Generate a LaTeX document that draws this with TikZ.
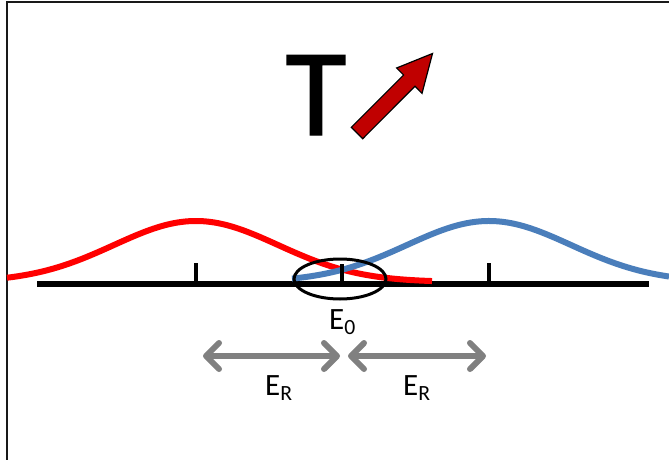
\documentclass[tikz,border=0pt]{standalone}
\usepackage{fontspec}
\setmainfont{Carlito}
\newfontfamily\tfont[FakeBold=1.2]{Carlito}
\usetikzlibrary{arrows.meta}
\definecolor{gaussblue}{RGB}{74,126,187}
\definecolor{darkred}{RGB}{192,0,0}
\definecolor{arrowgrey}{RGB}{128,128,128}
\tikzset{
  frameline/.style={line width=2.5, draw=black!90},
  axisline/.style={line width=5.5, draw=black},
  tickline/.style={line width=4.5, draw=black},
  gauss/.style={line width=6},
  greyarrow/.style={line width=6, draw=arrowgrey, {Straight Barb[length=13,width=26,round]}-{Straight Barb[length=13,width=26,round]}},
  lbl/.style={inner sep=0, anchor=base west, font=\fontsize{31}{31}\selectfont},
}
\begin{document}
\begin{tikzpicture}[x=1pt,y=-1pt]
\useasboundingbox (0,0) rectangle (669,460);
% frame
\coordinate (fa) at (7,460);
\coordinate (fb) at (7,2);
\coordinate (fc) at (669,2);
\draw[frameline] (fa) -- (fb) -- (fc);
% T and arrow
\node[inner sep=0, anchor=base, font=\tfont\fontsize{124}{124}\selectfont] (T) at (316,135) {T};
\draw[fill=darkred, draw=black, line width=1.2, line join=miter]
  (362.7,138.7) -- (351.3,127.3) -- (403.6,75) -- (396.6,68) -- (432.5,53.5)
  -- (422,93.4) -- (415,86.3) -- cycle;
% axis
\coordinate (al) at (37,284);
\coordinate (ar) at (649,284);
\draw[axisline] (al) -- (ar);
% curves
\draw[gauss, draw=red] plot[domain=7:432, samples=120, smooth]
  (\x, {282-61*exp(-0.5*((\x-196)/82)^2)});
\draw[gauss, draw=gaussblue] plot[domain=292:669, samples=120, smooth]
  (\x, {282-61*exp(-0.5*((\x-489)/82)^2)});
% ticks
\coordinate (t1a) at (196,263); \coordinate (t1b) at (196,284);
\coordinate (t2a) at (342,264); \coordinate (t2b) at (342,284);
\coordinate (t3a) at (489,263); \coordinate (t3b) at (489,284);
\draw[tickline] (t1a) -- (t1b);
\draw[tickline] (t2a) -- (t2b);
\draw[tickline] (t3a) -- (t3b);
% ellipse
\draw[line width=3] (340,279) ellipse [x radius=46, y radius=20];
% labels
\node[lbl] (e0) at (329,329) {E\textsubscript{0}};
\coordinate (a1l) at (203,356); \coordinate (a1r) at (340,356);
\coordinate (a2l) at (348,356); \coordinate (a2r) at (486,356);
\draw[greyarrow] (a1l) -- (a1r);
\draw[greyarrow] (a2l) -- (a2r);
\node[lbl] (er1) at (265,395) {E\textsubscript{R}};
\node[lbl] (er2) at (403,395) {E\textsubscript{R}};
\end{tikzpicture}
\end{document}
